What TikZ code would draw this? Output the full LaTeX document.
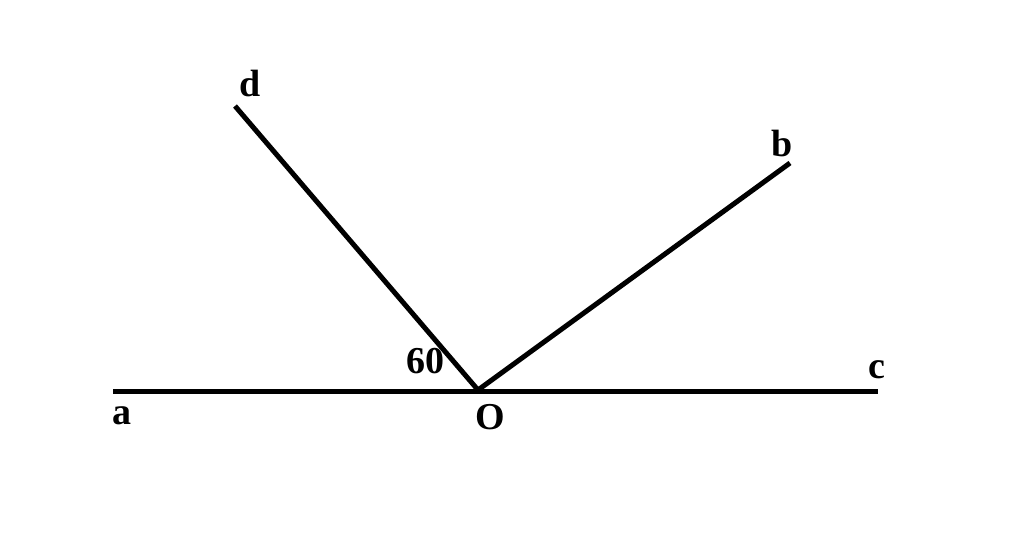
\documentclass[tikz,border=0pt]{standalone}
\usepackage{fontspec}
\setmainfont{Liberation Serif}
\usepackage{tikz}

\begin{document}
\begin{tikzpicture}[x=1pt,y=-1pt,
    ray/.style={line width=5pt},
    lbl/.style={inner sep=0pt,font=\fontsize{38}{40}\selectfont\bfseries}]
    \useasboundingbox (0,0) rectangle (1024,552);

    \coordinate (O) at (478,390);
    \coordinate (a) at (113,391);
    \coordinate (c) at (878,391);
    \coordinate (d) at (235,106);
    \coordinate (b) at (790,163);

    \draw[ray] (a) -- (c);
    \draw[ray] (O) -- (d);
    \draw[ray] (O) -- (b);

    \node[lbl] (la) at (122,416) {a};
    \node[lbl] (lc) at (877,370) {c};
    \node[lbl] (ld) at (250,83) {d};
    \node[lbl] (lb) at (782,143) {b};
    \node[lbl] (lO) at (490,417) {O};
    \node[lbl] (l60) at (425,361) {60};
\end{tikzpicture}
\end{document}
